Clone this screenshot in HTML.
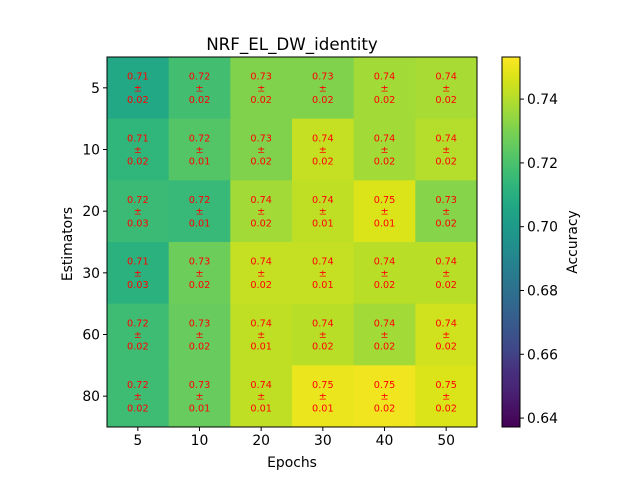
<!DOCTYPE html>
<html><head><meta charset="utf-8"><style>
body{margin:0;background:#fff}
svg text{font-family:"DejaVu Sans","Liberation Sans",sans-serif}
</style></head><body>
<svg id="c" width="640" height="480" xmlns="http://www.w3.org/2000/svg">
<defs><linearGradient id="vg" x1="0" y1="1" x2="0" y2="0"></linearGradient></defs>
<text x="292" y="50" font-size="16.7" text-anchor="middle">NRF_EL_DW_identity</text>
<g id="cells"></g><g id="axes"></g>
</svg>
<script>
const epochs=["5","10","20","30","40","50"];
const estimators=["5","10","20","30","60","80"];
const accMean=[
[0.707,0.718,0.731,0.731,0.737,0.738],
[0.713,0.722,0.731,0.743,0.737,0.740],
[0.716,0.715,0.737,0.742,0.747,0.732],
[0.711,0.727,0.743,0.743,0.741,0.741],
[0.717,0.726,0.742,0.741,0.737,0.745],
[0.717,0.726,0.742,0.750,0.751,0.747]];
const meanLabels=[
["0.71","0.72","0.73","0.73","0.74","0.74"],
["0.71","0.72","0.73","0.74","0.74","0.74"],
["0.72","0.72","0.74","0.74","0.75","0.73"],
["0.71","0.73","0.74","0.74","0.74","0.74"],
["0.72","0.73","0.74","0.74","0.74","0.74"],
["0.72","0.73","0.74","0.75","0.75","0.75"]];
const stdLabels=[
["0.02","0.02","0.02","0.02","0.02","0.02"],
["0.02","0.01","0.02","0.02","0.02","0.02"],
["0.03","0.01","0.02","0.01","0.01","0.02"],
["0.03","0.02","0.02","0.01","0.02","0.02"],
["0.02","0.02","0.01","0.02","0.02","0.02"],
["0.02","0.01","0.01","0.01","0.02","0.02"]];
const cbTicks=[0.64,0.66,0.68,0.70,0.72,0.74];
const vmin=0.6372,vmax=0.7532;
const V=["#440154","#471164","#482475","#472f7d","#414487","#3b528b","#355f8d","#2f6c8e","#2a788e","#25848e","#21918c","#1e9c89","#22a884","#2fb47c","#44bf70","#5ec962","#7ad151","#9bd93c","#bddf26","#dde318","#fde725"];
function hx(h){return [1,3,5].map(i=>parseInt(h.substr(i,2),16));}
function viridis(t){t=Math.max(0,Math.min(1,t));const p=t*(V.length-1),i=Math.min(Math.floor(p),V.length-2),f=p-i;const a=hx(V[i]),b=hx(V[i+1]);return "rgb("+a.map((v,k)=>Math.round(v+(b[k]-v)*f)).join(",")+")";}
const NS="http://www.w3.org/2000/svg";
function mk(t,a,p){const e=document.createElementNS(NS,t);for(const k in a)e.setAttribute(k,a[k]);(p||document.getElementById('c')).appendChild(e);return e;}
const X0=107,Y0=57,W=370,H=370,cw=W/epochs.length,ch=H/estimators.length;
const xs=i=>X0+i*cw, ys=j=>Y0+j*ch;
const cells=document.getElementById('cells'),axes=document.getElementById('axes');
accMean.forEach((row,j)=>row.forEach((v,i)=>{
 const r=mk('rect',{x:xs(i),y:ys(j),width:cw+0.5,height:ch+0.5,fill:viridis((v-vmin)/(vmax-vmin))},cells);
 
 
 const cx=xs(i)+cw/2,cy=ys(j)+ch/2;
 [meanLabels[j][i],"±",stdLabels[j][i]].forEach((s,k)=>{
  const t=mk('text',{x:cx,y:cy+(k-1)*11.6+3.5,'font-size':9.7,fill:'red','text-anchor':'middle'},cells);
  t.textContent=s;
  
  
 });
}));
const fr=mk('rect',{x:X0,y:Y0,width:W,height:H,fill:'none',stroke:'#000','stroke-width':1},axes);


epochs.forEach((s,i)=>{const x=xs(i)+cw/2;mk('line',{x1:x,x2:x,y1:Y0+H,y2:Y0+H+4,stroke:'#000'},axes);
 const t=mk('text',{x:x,y:Y0+H+18,'font-size':13.9,'text-anchor':'middle'},axes);t.textContent=s;
 
 });
estimators.forEach((s,j)=>{const y=ys(j)+ch/2;mk('line',{x1:X0-4,x2:X0,y1:y,y2:y,stroke:'#000'},axes);
 const t=mk('text',{x:X0-7,y:y+5,'font-size':13.9,'text-anchor':'end'},axes);t.textContent=s;
 
 });
let t=mk('text',{x:292,y:467,'font-size':13.9,'text-anchor':'middle'},axes);t.textContent="Epochs";


t=mk('text',{x:72,y:244,'font-size':13.9,'text-anchor':'middle',transform:'rotate(-90 72 244)'},axes);t.textContent="Estimators";


const g=document.getElementById('vg');
V.forEach((c,k)=>mk('stop',{offset:k/(V.length-1),'stop-color':c},g));
const CX=502,CW=18;
const cb=mk('rect',{x:CX,y:Y0,width:CW,height:H,fill:'url(#vg)',stroke:'#000','stroke-width':1},axes);


const cy=v=>Y0+H-(v-vmin)/(vmax-vmin)*H;
cbTicks.forEach(v=>{const y=cy(v);mk('line',{x1:CX+CW,x2:CX+CW+4,y1:y,y2:y,stroke:'#000'},axes);
 const tt=mk('text',{x:CX+CW+7,y:y+5,'font-size':13.9},axes);tt.textContent=v.toFixed(2);
 
 });
t=mk('text',{x:577,y:242,'font-size':13.9,'text-anchor':'middle',transform:'rotate(-90 577 242)'},axes);t.textContent="Accuracy";


</script>
</body></html>
